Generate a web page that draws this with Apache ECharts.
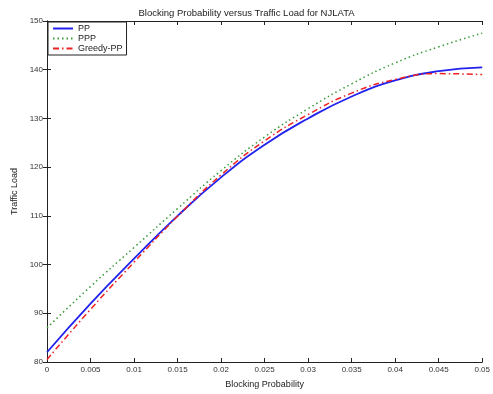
<!DOCTYPE html>
<html><head><meta charset="utf-8">
<script src="https://cdn.jsdelivr.net/npm/echarts@6/dist/echarts.min.js"></script>
<style>html,body{margin:0;padding:0;background:#fff}#c{width:493px;height:394px}</style>
</head><body><div id="c"></div>
<script>
var xValues = [0, 0.005, 0.01, 0.015, 0.02, 0.025, 0.03, 0.035, 0.04, 0.045, 0.05];
var ppValues = [82, 92, 101.2, 110, 117.9, 124.6, 130, 134.5, 137.8, 139.7, 140.5];
var pppValues = [87, 95.5, 103.5, 111.5, 119.3, 126.2, 132, 137.1, 141.4, 144.7, 147.5];
var greedyValues = [80.5, 90.8, 100.5, 109.9, 118.4, 125.4, 130.8, 135.2, 138, 139.2, 139];
var xTicks = [0, 0.005, 0.01, 0.015, 0.02, 0.025, 0.03, 0.035, 0.04, 0.045, 0.05];
var yTicks = [80, 90, 100, 110, 120, 130, 140, 150];

function pairs(v){ return xValues.map(function(x,i){ return [x, v[i]]; }); }
var font = 'Liberation Sans, Arial, sans-serif';
var chart = echarts.init(document.getElementById('c'));
var axisLine = {show:true, lineStyle:{color:'#222', width:1}};
chart.setOption({
  animation:false,
  title:{text:'Blocking Probability versus Traffic Load for NJLATA', left:'center', top:3,
    textStyle:{fontSize:9.5, fontWeight:'normal', color:'#222', fontFamily:font}},
  grid:{left:47, right:9, top:21, bottom:31},
  legend:{orient:'vertical', left:48, top:22, padding:[2,4,2,4], itemGap:1, itemWidth:20, itemHeight:8,
    borderColor:'#222', borderWidth:1, backgroundColor:'#fff',
    itemStyle:{color:'transparent', borderColor:'transparent', borderWidth:0, opacity:0},
    textStyle:{fontSize:9, color:'#222', fontFamily:font},
    data:['PP','PPP','Greedy-PP']},
  xAxis:[{type:'value', min:0, max:0.05, interval:0.005, name:'Blocking Probability', nameLocation:'middle', nameGap:18,
    nameTextStyle:{fontSize:9, color:'#222', fontFamily:font},
    axisLine:axisLine, axisTick:{inside:true, length:4, lineStyle:{color:'#222'}},
    axisLabel:{fontSize:8, color:'#333', fontFamily:font, margin:4, formatter:function(v){return String(+v.toFixed(3));}},
    splitLine:{show:false}},
    {type:'value', position:'top', min:0, max:0.05, interval:0.005, axisLine:axisLine,
    axisTick:{inside:true, length:4, lineStyle:{color:'#222'}}, axisLabel:{show:false}, splitLine:{show:false}}],
  yAxis:[{type:'value', min:80, max:150, interval:10, name:'Traffic Load', nameLocation:'middle', nameGap:22,
    nameTextStyle:{fontSize:9, color:'#222', fontFamily:font},
    axisLine:axisLine, axisTick:{inside:true, length:4, lineStyle:{color:'#222'}},
    axisLabel:{fontSize:8, color:'#333', fontFamily:font, margin:4}, splitLine:{show:false}},
    {type:'value', position:'right', min:80, max:150, interval:10, axisLine:axisLine,
    axisTick:{inside:true, length:4, lineStyle:{color:'#222'}}, axisLabel:{show:false}, splitLine:{show:false}}],
  series:[
    {name:'PP', type:'line', smooth:true, symbol:'none', data:pairs(ppValues), z:3,
      lineStyle:{color:'#2222ee', width:1.8}, itemStyle:{color:'#2222ee'}},
    {name:'PPP', type:'line', smooth:true, symbol:'none', data:pairs(pppValues), z:2,
      lineStyle:{color:'#3a9a3a', width:1.5, type:[1.5,3]}, itemStyle:{color:'#3a9a3a'}},
    {name:'Greedy-PP', type:'line', smooth:true, symbol:'none', data:pairs(greedyValues), z:4,
      lineStyle:{color:'#ee2222', width:1.5, type:[6,3,1.5,3]}, itemStyle:{color:'#ee2222'}}
  ]
});
</script></body></html>
